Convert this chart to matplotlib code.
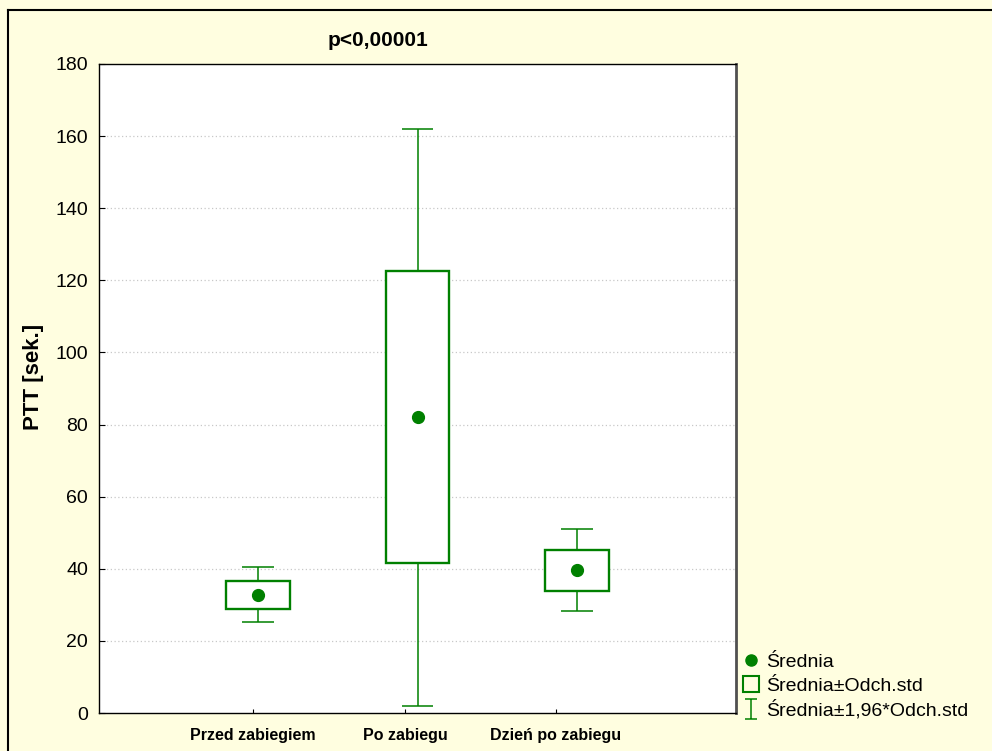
import matplotlib.pyplot as plt
import matplotlib.patches as patches
from matplotlib.lines import Line2D
from matplotlib.path import Path

plt.rcParams['font.family'] = ['Liberation Sans', 'DejaVu Sans']

# PTT (s) per group: mean, mean +/- SD box and mean +/- 1.96*SD whiskers
groups = ['Przed zabiegiem', 'Po zabiegu', 'Dzień po zabiegu']
means = [32.8, 82.0, 39.6]
box_low = [28.9, 41.5, 33.9]
box_high = [36.6, 122.6, 45.3]
whisk_low = [25.2, 2.0, 28.3]
whisk_high = [40.4, 162.0, 51.0]

green = '#008000'
bg = '#FFFEE0'

fig = plt.figure(figsize=(9.92, 7.51), dpi=100, facecolor=bg)
ax = fig.add_axes([99 / 992, 1 - 713 / 751, 637 / 992, 649 / 751])
ax.set_facecolor('white')

pos = [1, 2, 3]
box_w = 0.4
cap_w = 0.2
for x, m, bl, bh, wl, wh in zip(pos, means, box_low, box_high, whisk_low, whisk_high):
    # whiskers with caps
    ax.vlines(x, bh, wh, color=green, lw=1.1, zorder=2)
    ax.vlines(x, wl, bl, color=green, lw=1.1, zorder=2)
    ax.hlines([wl, wh], x - cap_w / 2, x + cap_w / 2, color=green, lw=1.1, zorder=2)
    # SD box
    ax.add_patch(patches.Rectangle((x - box_w / 2, bl), box_w, bh - bl,
                                   facecolor='white', edgecolor=green, lw=1.7, zorder=3))
ax.plot(pos, means, 'o', color=green, markersize=8.5, zorder=4)

ax.set_xlim(0, 4)
ax.set_ylim(0, 180)
ax.set_yticks(range(0, 181, 20))
ax.set_xticks([0.967, 1.921, 2.870])
ax.set_xticklabels(groups, fontsize=11.5, fontweight='bold')
ax.tick_params(axis='y', direction='in', length=4, labelsize=14, pad=8)
ax.tick_params(axis='x', direction='in', length=3, pad=11)

for y in range(20, 180, 20):
    ax.axhline(y, color='#c8c8c8', lw=0.9, ls=(0, (1, 2)), zorder=1)

for side in ['left', 'top', 'bottom']:
    ax.spines[side].set_linewidth(1.0)
ax.spines['right'].set_color('#505050')
ax.spines['right'].set_linewidth(2.0)

fig.text(378 / 992, 1 - 41 / 751, 'p<0,00001', fontsize=15, fontweight='bold',
         ha='center', va='center')
fig.text(33 / 992, 1 - 377 / 751, 'PTT [sek.]', fontsize=16, fontweight='bold',
         rotation=90, ha='center', va='center')

# outer frame: only left and top edges fall inside the image
x0, y0 = 8 / 992, 1 - 10 / 751
fig.add_artist(Line2D([x0, x0], [-0.01, y0], transform=fig.transFigure, color='black', lw=1.5))
fig.add_artist(Line2D([x0, 1.01], [y0, y0], transform=fig.transFigure, color='black', lw=1.5))

ibar = Path([(-1.25, -2), (1.25, -2), (0, -2), (0, 2), (-1.25, 2), (1.25, 2)],
            [Path.MOVETO, Path.LINETO, Path.MOVETO, Path.LINETO, Path.MOVETO, Path.LINETO])
handles = [
    Line2D([], [], ls='none', marker='o', color=green, markersize=8),
    Line2D([], [], ls='none', marker='s', markerfacecolor='none',
           markeredgecolor=green, markeredgewidth=1.5, markersize=11),
    Line2D([], [], ls='none', marker=ibar, markerfacecolor='none',
           markeredgecolor=green, markeredgewidth=1.1, markersize=14),
]
labels = ['Średnia', 'Średnia±Odch.std', 'Średnia±1,96*Odch.std']
fig.legend(handles, labels, loc='lower left', bbox_to_anchor=(741 / 992, 1 - 720 / 751),
           frameon=False, fontsize=14, handlelength=1.0, handletextpad=0.3,
           labelspacing=0.3, borderpad=0, borderaxespad=0)

fig.savefig('out.png', dpi=100, facecolor=bg)
